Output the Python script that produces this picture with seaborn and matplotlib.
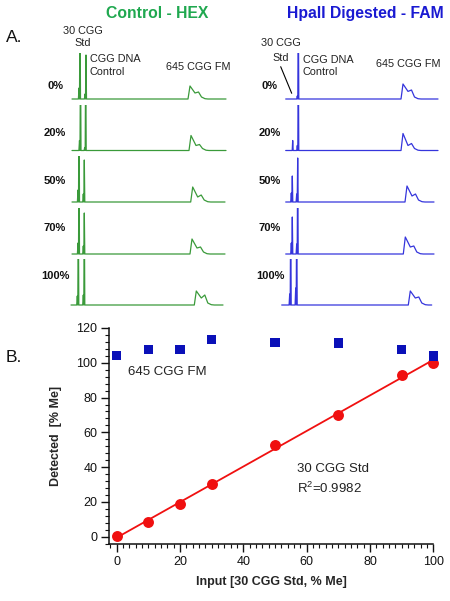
import numpy as np
import pandas as pd
import matplotlib
matplotlib.use("Agg")
import matplotlib.pyplot as plt
from matplotlib.ticker import MultipleLocator
import seaborn as sns

sns.set_style("ticks")
plt.rcParams['font.family'] = ['Liberation Sans', 'DejaVu Sans']
plt.rcParams['mathtext.fontset'] = 'custom'
plt.rcParams['mathtext.rm'] = 'Liberation Sans'
plt.rcParams['mathtext.it'] = 'Liberation Sans:italic'

# ---------------- data: panel A (electropherogram peaks, position / height in trace units) -------------
rows = ['0%', '20%', '50%', '70%', '100%']

green_start = [72, 72, 72, 72, 71]
green_end = [226, 226, 225, 225, 223]
green_std_pos = [80, 80.5, 79, 79, 78.3]
green_std_h = [100, 100, 100, 100, 100]
green_std_small = [11, 10, 12, 11, 9]
green_ctl_pos = [86, 85.7, 84.3, 84.3, 84.3]
green_ctl_h = [44, 100, 42, 41, 100]
green_ctl_small = [5, 3, 8, 8, 10]
green_fm_pos = [188, 189, 190.7, 190, 194.3]
green_fm_h1 = [13, 15, 15, 15, 14]
green_fm_dip = [6, 5, 5, 6, 7]
green_fm_h2 = [7, 6, 7, 7, 10]

blue_start = [285.7, 285.7, 285.7, 285.7, 281.7]
blue_end = [438, 438, 434, 434, 431.7]
blue_std_pos = [293, 292.7, 292.3, 292.3, 290.7]
blue_std_h = [0, 10, 26, 37, 100]
blue_std_small = [0, 0, 9, 11, 11]
blue_ctl_pos = [298.3, 298.3, 297.7, 297.7, 296.7]
blue_ctl_h = [100, 100, 44, 100, 100]
blue_ctl_small = [3, 5, 8, 10, 17]
blue_fm_pos = [401, 401, 405, 403.3, 408.3]
blue_fm_h1 = [15, 17, 16, 17, 14]
blue_fm_dip = [7.6, 5, 6, 7, 7]
blue_fm_h2 = [9, 7, 8, 8, 8]

# ---------------- data: panel B ----------------
input_pct = [0, 10, 20, 30, 50, 70, 90, 100]
std_detected = [0.4, 8.3, 18.7, 30.4, 53.0, 70.0, 93.1, 100.0]
fm_detected = [104.3, 107.5, 107.5, 113.3, 111.6, 111.4, 107.7, 103.9]

W, H = 450, 601
fig = plt.figure(figsize=(W / 100, H / 100), dpi=100)


def fx(px):
    return px / W


def fy(py):
    return 1 - py / H


def trace_frame(start, end, std_pos, std_h, std_small, ctl_pos, ctl_h, ctl_small,
                fm_pos, h1, hd, h2):
    pts = [(start, 0.0)]
    for pos, h, hs in ((std_pos, std_h, std_small), (ctl_pos, ctl_h, ctl_small)):
        if h <= 0:
            continue
        if hs > 0:
            pts += [(pos - 1.6, 0), (pos - 1.0, hs), (pos - 0.5, 0)]
        else:
            pts += [(pos - 0.5, 0)]
        pts += [(pos, h), (pos + 0.5, 0)]
    pts += [(fm_pos, 0), (fm_pos + 2, h1), (fm_pos + 7, hd), (fm_pos + 10.5, h2),
            (fm_pos + 13.5, 2), (fm_pos + 17, 0.3), (fm_pos + 20, 0), (end, 0)]
    df = pd.DataFrame(pts, columns=['x', 'y'])
    return df


baselines = [99, 150.5, 202, 254, 305]
green_col = '#3a9a3a'
blue_col = '#3535dc'

for i, b in enumerate(baselines):
    for side in ('g', 'b'):
        left = 70 if side == 'g' else 280
        ax = fig.add_axes([fx(left), fy(b + 1), 160 / W, 47 / H])
        ax.set_xlim(left, left + 160)
        ax.set_ylim(-1, 46)
        ax.axis('off')
        if side == 'g':
            df = trace_frame(green_start[i], green_end[i], green_std_pos[i], green_std_h[i],
                             green_std_small[i], green_ctl_pos[i], green_ctl_h[i],
                             green_ctl_small[i], green_fm_pos[i], green_fm_h1[i],
                             green_fm_dip[i], green_fm_h2[i])
            col = green_col
        else:
            df = trace_frame(blue_start[i], blue_end[i], blue_std_pos[i], blue_std_h[i],
                             blue_std_small[i], blue_ctl_pos[i], blue_ctl_h[i],
                             blue_ctl_small[i], blue_fm_pos[i], blue_fm_h1[i],
                             blue_fm_dip[i], blue_fm_h2[i])
            col = blue_col
        sns.lineplot(data=df, x='x', y='y', sort=False, estimator=None, color=col,
                     lw=0.9, ax=ax, legend=False)
        if side == 'b' and i == 0:
            ax.plot([280.7, 291.7], [b - 66.7, b - 93.3], color='black', lw=0.8,
                    clip_on=False)

# row labels
label_y = [86, 133, 181, 228, 276]
for lab, yy in zip(rows, label_y):
    fig.text(fx(55), fy(yy), lab, ha='center', va='center', fontsize=8, fontweight='bold',
             color='#111111')
    fig.text(fx(270), fy(yy), lab, ha='center', va='center', fontsize=8, fontweight='bold',
             color='#111111')

# titles & annotations
fig.text(fx(157), fy(13.5), 'Control - HEX', ha='center', va='center', fontsize=11.3,
         fontweight='bold', color='#1fa84f')
fig.text(fx(365), fy(13.5), 'HpaII Digested - FAM', ha='center', va='center', fontsize=11.3,
         fontweight='bold', color='#1a1ad2')
fig.text(fx(6), fy(37), 'A.', ha='left', va='center', fontsize=12.5, color='#111111')
fig.text(fx(6), fy(357), 'B.', ha='left', va='center', fontsize=12.5, color='#111111')

ann = dict(fontsize=7.8, color='#222222', va='center')
fig.text(fx(83), fy(30.7), '30 CGG', ha='center', **ann)
fig.text(fx(83), fy(43), 'Std', ha='center', **ann)
fig.text(fx(90), fy(59.5), 'CGG DNA', ha='left', **ann)
fig.text(fx(90), fy(71.7), 'Control', ha='left', **ann)
fig.text(fx(166), fy(66.7), '645 CGG FM', ha='left', **ann)

fig.text(fx(280.5), fy(43.3), '30 CGG', ha='center', **ann)
fig.text(fx(280.5), fy(58.3), 'Std', ha='center', **ann)
fig.text(fx(302.7), fy(60), 'CGG DNA', ha='left', **ann)
fig.text(fx(302.7), fy(72.3), 'Control', ha='left', **ann)
fig.text(fx(376), fy(64.3), '645 CGG FM', ha='left', **ann)

# ---------------- panel B ----------------
axb = fig.add_axes([fx(109.3), fy(544), (433.3 - 109.3) / W, (544 - 328) / H])
dfb = pd.DataFrame({'input': input_pct, 'std': std_detected, 'fm': fm_detected})
sns.regplot(data=dfb, x='input', y='std', ci=None, ax=axb, color='#f01010',
            scatter_kws=dict(s=62, clip_on=False, zorder=4, linewidths=0, alpha=1),
            line_kws=dict(lw=1.3, zorder=3))
sns.scatterplot(data=dfb, x='input', y='fm', marker='s', s=45, color='#0a10b8',
                edgecolor='none', ax=axb, clip_on=False, zorder=5)
axb.set_xlim(-2.34, 100)
axb.set_ylim(-4.2, 120)
sns.despine(ax=axb)
for sp in ('left', 'bottom'):
    axb.spines[sp].set_linewidth(1.1)
    axb.spines[sp].set_color('#111111')
axb.xaxis.set_major_locator(MultipleLocator(20))
axb.xaxis.set_minor_locator(MultipleLocator(2))
axb.yaxis.set_major_locator(MultipleLocator(20))
axb.yaxis.set_minor_locator(MultipleLocator(4))
axb.tick_params(which='major', direction='out', length=5.5, width=1.0, labelsize=9,
                colors='#111111', pad=3)
axb.tick_params(which='minor', direction='out', length=3, width=0.8, colors='#111111')
axb.set_xlabel('Input [30 CGG Std, % Me]', fontsize=9, fontweight='bold')
axb.set_ylabel('Detected  [% Me]', fontsize=9, fontweight='bold')
axb.xaxis.set_label_coords(0.5, -0.15)
axb.yaxis.set_label_coords(-0.145, 0.5)

axb.text(3.66, 94.9, '645 CGG FM', fontsize=9.5, va='center', ha='left', color='#222222')
axb.text(56.8, 38.9, '30 CGG Std', fontsize=9.5, va='center', ha='left', color='#222222')
axb.text(56.8, 27.9, 'R$^{2}$=0.9982', fontsize=9.5, va='center', ha='left', color='#222222')

fig.savefig('out.png', dpi=100)
